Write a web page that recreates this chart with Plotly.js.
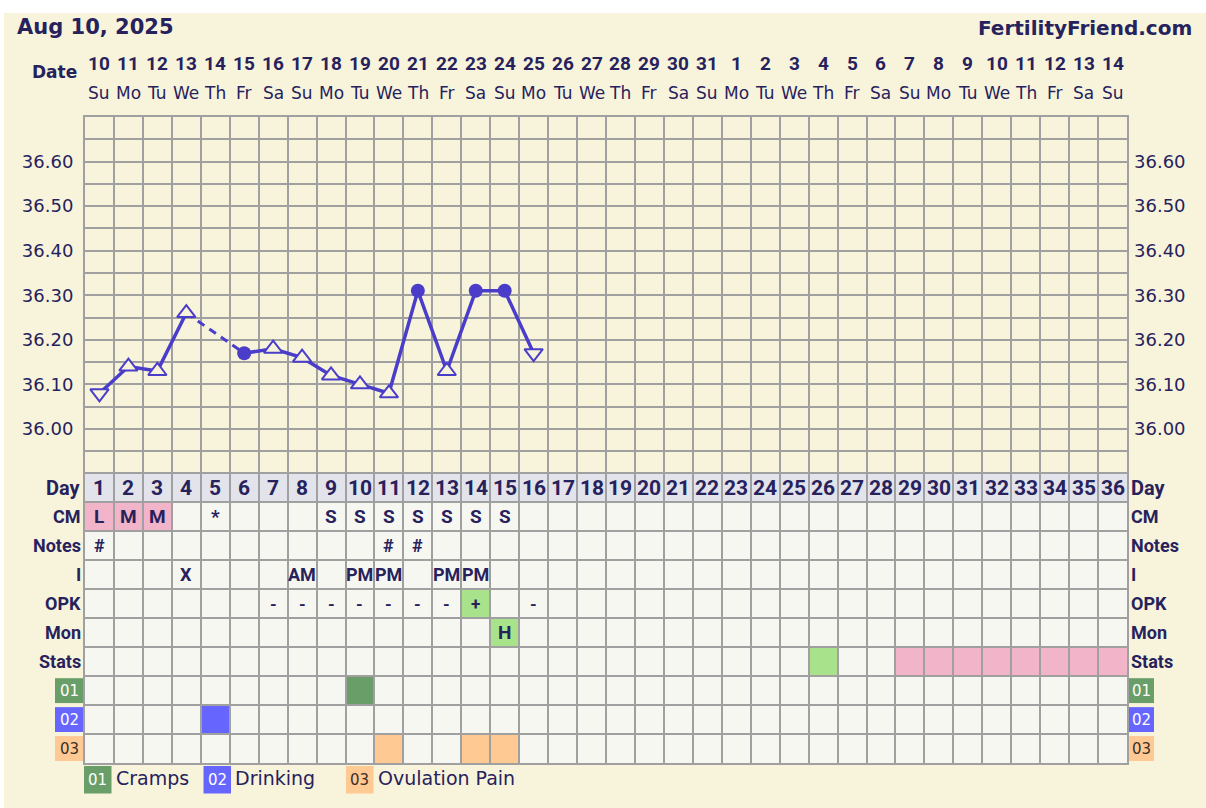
<!DOCTYPE html>
<html><head><meta charset="utf-8">
<script src="https://cdn.plot.ly/plotly-3.0.1.min.js"></script>
<style>html,body{margin:0;padding:0;background:#fff;} #chart{width:1206px;height:808px;}</style>
</head><body><div id="chart"></div>
<script>
// ---------------- DATA ----------------
const chartDate = 'Aug 10, 2025';
const siteName = 'FertilityFriend.com';
const cycleDays = [1,2,3,4,5,6,7,8,9,10,11,12,13,14,15,16,17,18,19,20,21,22,23,24,25,26,27,28,29,30,31,32,33,34,35,36];
const dateNums = [10,11,12,13,14,15,16,17,18,19,20,21,22,23,24,25,26,27,28,29,30,31,1,2,3,4,5,6,7,8,9,10,11,12,13,14];
const weekdays = ['Su','Mo','Tu','We','Th','Fr','Sa','Su','Mo','Tu','We','Th','Fr','Sa','Su','Mo','Tu','We','Th','Fr','Sa','Su','Mo','Tu','We','Th','Fr','Sa','Su','Mo','Tu','We','Th','Fr','Sa','Su'];
const tempDays = [1,2,3,4,5,6,7,8,9,10,11,12,13,14,15,16];
const temps = [36.08,36.14,36.13,36.26,null,36.17,36.18,36.16,36.12,36.10,36.08,36.31,36.13,36.31,36.31,36.17];
const tempKind = ['down','up','up','up',null,'dot','up','up','up','up','up','dot','up','dot','dot','down'];
const tempTicks = [36.00,36.10,36.20,36.30,36.40,36.50,36.60];

const rowNames = ['Day','CM','Notes','I','OPK','Mon','Stats','01','02','03'];
const cmText    = ['L','M','M','','*','','','','S','S','S','S','S','S','S'];
const notesText = ['#','','','','','','','','','','#','#'];
const iText     = ['','','','X','','','','AM','','PM','PM','','PM','PM'];
const opkText   = ['','','','','','','-','-','-','-','-','-','-','+','','-'];
const monText   = ['','','','','','','','','','','','','','','H'];

const cmPinkDays = [1,2,3];
const opkPosDays = [14];
const monPeakDays = [15];
const statsGreenDays = [26];
const statsPinkDays = [29,30,31,32,33,34,35,36];
const custom01Days = [10];
const custom02Days = [5];
const custom03Days = [11,14,15];
const legendCodes = ['01','02','03'];
const legendNames = ['Cramps','Drinking','Ovulation Pain'];

// ---------------- STYLE / LAYOUT ----------------
const NAVY = '#27225c';
const PURPLE = '#4a3dc9';
const CREAM = '#f8f4dc';
const GRID = '#a0a0a0';
const GW = 2;
const PINK = '#f2b4c8';
const LGREEN = '#a8e38c';
const DGREEN = '#6a9e68';
const BLUE = '#6666ff';
const ORANGE = '#ffc994';
const codeColors = [DGREEN, BLUE, ORANGE];
const codeText = ['#ffffff','#ffffff','#3a2f2a'];
const SANS = '"DejaVu Sans", Verdana, sans-serif';
const COND = 'Roboto, "Liberation Sans", Arial, sans-serif';

const W = 1206, H = 808, L = 85, R = 1127, T = 117, B = 763, SPLIT = 473.5;
const plotW = R - L, plotH = B - T;
const px = x => (x - L) / plotW;
const py = y => (B - y) / plotH;
const dSplit = (B - SPLIT) / plotH;

const shapes = [];
const annotations = [];

// background cream panel
shapes.push({type:'rect', xref:'paper', yref:'paper', x0:px(4), x1:px(W+2), y0:py(H+2), y1:py(13),
  fillcolor:CREAM, line:{width:0}, layer:'below'});

// table base fills
shapes.push({type:'rect', xref:'x2', yref:'y2', x0:0.5, x1:36.5, y0:-0.5, y1:0.5, fillcolor:'#e3e3eb', line:{width:0}, layer:'below'});
shapes.push({type:'rect', xref:'x2', yref:'y2', x0:0.5, x1:36.5, y0:0.5, y1:9.5, fillcolor:'#f7f7f2', line:{width:0}, layer:'below'});

function fillCells(row, days, color){
  days.forEach(d => shapes.push({type:'rect', xref:'x2', yref:'y2', x0:d-0.5, x1:d+0.5, y0:row-0.5, y1:row+0.5,
    fillcolor:color, line:{width:0}, layer:'below'}));
}
fillCells(1, cmPinkDays, PINK);
fillCells(4, opkPosDays, LGREEN);
fillCells(5, monPeakDays, LGREEN);
fillCells(6, statsGreenDays, LGREEN);
fillCells(6, statsPinkDays, PINK);
fillCells(7, custom01Days, DGREEN);
fillCells(8, custom02Days, BLUE);
fillCells(9, custom03Days, ORANGE);

function ann(o){ annotations.push(Object.assign({showarrow:false}, o)); }

// header
ann({xref:'paper', yref:'paper', x:px(15), y:py(27), xanchor:'left', yanchor:'middle', text:chartDate,
  font:{family:SANS, size:21, color:NAVY, weight:'bold'}});
ann({xref:'paper', yref:'paper', x:px(1194), y:py(28), xanchor:'right', yanchor:'middle', text:siteName,
  font:{family:SANS, size:20, color:NAVY, weight:'bold'}});
ann({xref:'paper', yref:'paper', x:px(79), y:py(72), xanchor:'right', yanchor:'middle', text:'Date',
  font:{family:SANS, size:17, color:NAVY, weight:'bold'}});
cycleDays.forEach((d,i) => {
  ann({xref:'x', yref:'paper', x:d, y:py(64), xanchor:'center', yanchor:'middle', text:String(dateNums[i]),
    font:{family:COND, size:19, color:NAVY, weight:'bold'}});
  ann({xref:'x', yref:'paper', x:d, y:py(93), xanchor:'center', yanchor:'middle', text:weekdays[i],
    font:{family:SANS, size:17, color:NAVY}});
  ann({xref:'x2', yref:'y2', x:d, y:0, xanchor:'center', yanchor:'middle', text:String(d),
    font:{family:COND, size:21, color:NAVY, weight:'bold'}});
});

// row labels
rowNames.forEach((name, r) => {
  if (r < 7) {
    ann({xref:'x2', yref:'y2', x:0.5, y:r, xanchor:'right', yanchor:'middle', xshift:-2, text:name,
      font:{family:COND, size:r===0?20:18, color:NAVY, weight:'bold'}});
    ann({xref:'x2', yref:'y2', x:36.5, y:r, xanchor:'left', yanchor:'middle', xshift:2, text:name,
      font:{family:COND, size:r===0?20:18, color:NAVY, weight:'bold'}});
  } else {
    const k = r - 7;
    [[55,83],[1129,1154]].forEach(([a,b]) => {
      shapes.push({type:'rect', xref:'paper', yref:'y2', x0:px(a), x1:px(b), y0:r-0.43, y1:r+0.43,
        fillcolor:codeColors[k], line:{width:0}});
      ann({xref:'paper', yref:'y2', x:px((a+b)/2), y:r, xanchor:'center', yanchor:'middle', text:name,
        font:{family:SANS, size:15, color:codeText[k]}});
    });
  }
});

// row contents
function rowText(row, arr, size){
  arr.forEach((t,i) => { if (t) ann({xref:'x2', yref:'y2', x:cycleDays[i], y:row, xanchor:'center', yanchor:'middle',
    text:t, font:{family:COND, size:size, color:NAVY, weight:'bold'}}); });
}
rowText(1, cmText, 19);
rowText(2, notesText, 18);
rowText(3, iText, 18);
rowText(4, opkText, 17);
rowText(5, monText, 19);

// legend
const legendX = [[84,111.5],[203.5,231],[346,373.5]];
legendCodes.forEach((c,k) => {
  const [a,b] = legendX[k];
  shapes.push({type:'rect', xref:'paper', yref:'paper', x0:px(a), x1:px(b), y0:py(793.5), y1:py(766),
    fillcolor:codeColors[k], line:{width:0}});
  ann({xref:'paper', yref:'paper', x:px((a+b)/2), y:py(779.5), xanchor:'center', yanchor:'middle', text:c,
    font:{family:SANS, size:15, color:codeText[k]}});
  ann({xref:'paper', yref:'paper', x:px(b+2), y:py(778), xanchor:'left', yanchor:'middle', text:legendNames[k],
    font:{family:SANS, size:19, color:NAVY}});
});

// ---------------- TRACES ----------------
const traces = [];
traces.push({x:tempDays, y:temps, mode:'lines', line:{color:PURPLE, width:3.5}, connectgaps:false,
  hoverinfo:'skip', showlegend:false});
// dashed bridges across missing temperatures
for (let i=1;i<temps.length;i++){
  if (temps[i]===null){
    let j=i; while (j<temps.length && temps[j]===null) j++;
    if (j<temps.length && temps[i-1]!==null){
      traces.push({x:[tempDays[i-1], tempDays[j]], y:[temps[i-1], temps[j]], mode:'lines',
        line:{color:PURPLE, width:3, dash:'8px,6px'}, hoverinfo:'skip', showlegend:false});
    }
    i=j;
  }
}
const kinds = {
  up:{symbol:'triangle-up', size:16, color:CREAM, line:{color:PURPLE, width:2}},
  down:{symbol:'triangle-down', size:16, color:CREAM, line:{color:PURPLE, width:2}},
  dot:{symbol:'circle', size:14, color:PURPLE, line:{color:PURPLE, width:0}}
};
Object.keys(kinds).forEach(k => {
  const xs=[], ys=[];
  tempKind.forEach((t,i)=>{ if (t===k){ xs.push(tempDays[i]); ys.push(temps[i]); } });
  traces.push({x:xs, y:ys, mode:'markers', marker:kinds[k], hoverinfo:'skip', showlegend:false, cliponaxis:false});
});
traces.push({x:[1], y:[36.3], xaxis:'x', yaxis:'y3', mode:'markers', marker:{opacity:0}, hoverinfo:'skip', showlegend:false});
traces.push({x:[1], y:[1], xaxis:'x2', yaxis:'y2', mode:'markers', marker:{opacity:0}, hoverinfo:'skip', showlegend:false});

const tickFont = {family:SANS, size:18, color:NAVY};
const tickText = tempTicks.map(v => v.toFixed(2));
const layout = {
  width:W, height:H, margin:{l:L, r:W-R, t:T, b:H-B, pad:0},
  paper_bgcolor:'#ffffff', plot_bgcolor:'rgba(0,0,0,0)',
  showlegend:false, shapes:shapes, annotations:annotations,
  xaxis:{domain:[0,1], range:[0.5,36.5], anchor:'y', tickmode:'linear', tick0:0.5, dtick:1, showticklabels:false,
    showgrid:true, gridcolor:GRID, gridwidth:GW, zeroline:false, showline:true, mirror:true, linecolor:GRID, linewidth:GW, ticks:''},
  yaxis:{domain:[dSplit,1], range:[35.9,36.7], anchor:'x', tickmode:'array', tickvals:tempTicks, ticktext:tickText,
    tickfont:tickFont, ticks:'', ticklabelstandoff:6, showgrid:true, gridcolor:GRID, gridwidth:GW, zeroline:false,
    showline:true, mirror:true, linecolor:GRID, linewidth:GW,
    minor:{tickmode:'linear', tick0:35.9, dtick:0.05, showgrid:true, gridcolor:GRID, gridwidth:GW, ticks:''}},
  yaxis3:{overlaying:'y', side:'right', anchor:'x', range:[35.9,36.7], tickmode:'array', tickvals:tempTicks, ticktext:tickText,
    tickfont:tickFont, ticks:'', ticklabelstandoff:6, showgrid:false, zeroline:false, showline:false},
  xaxis2:{domain:[0,1], range:[0.5,36.5], anchor:'y2', tickmode:'linear', tick0:0.5, dtick:1, showticklabels:false,
    showgrid:true, gridcolor:GRID, gridwidth:GW, zeroline:false, showline:true, mirror:true, linecolor:GRID, linewidth:GW, ticks:''},
  yaxis2:{domain:[0,dSplit], range:[9.5,-0.5], anchor:'x2', tickmode:'linear', tick0:-0.5, dtick:1, showticklabels:false,
    showgrid:true, gridcolor:GRID, gridwidth:GW, zeroline:false, showline:true, mirror:true, linecolor:GRID, linewidth:GW, ticks:''}
};
Plotly.newPlot('chart', traces, layout, {displayModeBar:false, staticPlot:true});
</script>
</body></html>
